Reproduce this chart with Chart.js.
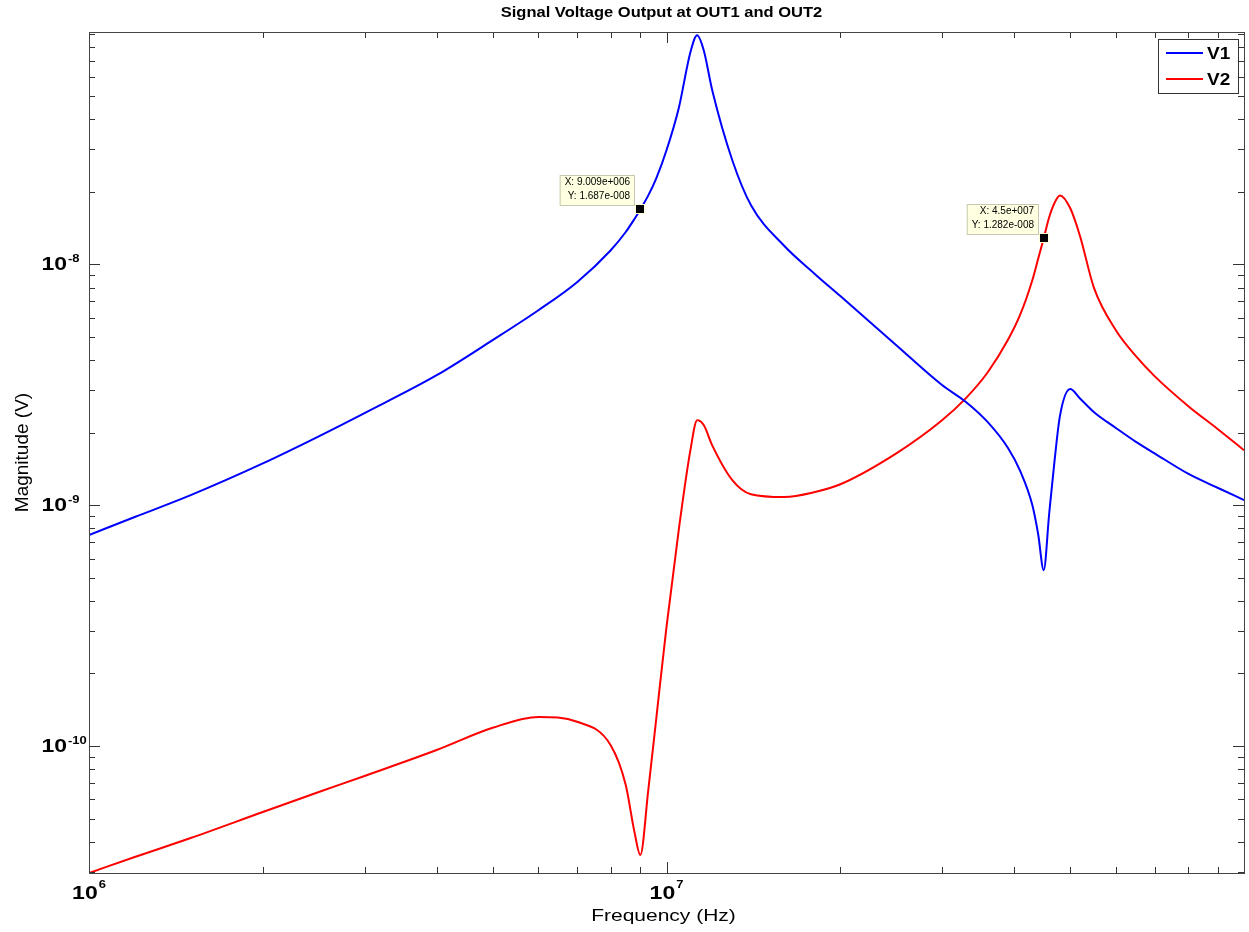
<!DOCTYPE html>
<html>
<head>
<meta charset="utf-8">
<title>Signal Voltage Output at OUT1 and OUT2</title>
<script src="https://cdn.jsdelivr.net/npm/chart.js@4.4.1/dist/chart.umd.min.js"></script>
<style>
  html, body { margin: 0; padding: 0; background: #fff; }
  #wrap { width: 1249px; height: 932px; }
</style>
</head>
<body>
<div id="wrap"><canvas id="chart" width="1249" height="932"></canvas></div>
<script>
// Labels
const chartTitle = 'Signal Voltage Output at OUT1 and OUT2';
const xLabel = 'Frequency (Hz)';
const yLabel = 'Magnitude (V)';
const seriesNames = ['V1', 'V2'];
const seriesColors = ['#0000ff', '#ff0000'];

// Frequency points (Hz)
const freq = [1e6, 1.2e6, 1.5e6, 2e6, 2.5e6, 3e6, 4e6, 5e6, 6e6, 7e6, 8e6, 8.5e6, 8.8e6, 9.009e6,
  9.3e6, 9.6e6, 1e7, 1.05e7, 1.1e7, 1.13e7, 1.16e7, 1.2e7, 1.3e7, 1.4e7, 1.6e7, 1.8e7, 2e7,
  2.5e7, 3e7, 3.3e7, 3.6e7, 3.9e7, 4.1e7, 4.3e7, 4.4e7, 4.5e7, 4.6e7, 4.7e7, 4.8e7, 5e7,
  5.2e7, 5.5e7, 6e7, 6.5e7, 7e7, 8e7, 9e7, 1e8];

// Magnitudes (V)
const v1 = [7.51e-10, 8.92e-10, 1.10e-9, 1.49e-9, 1.93e-9, 2.41e-9, 3.46e-9, 4.84e-9, 6.44e-9,
  8.42e-9, 1.14e-8, 1.36e-8, 1.54e-8, 1.687e-8, 1.93e-8, 2.27e-8, 2.97e-8, 4.44e-8, 7.58e-8,
  8.92e-8, 7.73e-8, 5.27e-8, 2.70e-8, 1.76e-8, 1.19e-8, 9.18e-9, 7.37e-9, 4.61e-9, 3.15e-9,
  2.68e-9, 2.21e-9, 1.73e-9, 1.38e-9, 1.00e-9, 7.6e-10, 5.37e-10, 9.27e-10, 1.54e-9, 2.34e-9,
  3.03e-9, 2.77e-9, 2.43e-9, 2.09e-9, 1.83e-9, 1.64e-9, 1.35e-9, 1.18e-9, 1.05e-9];

const v2 = [2.97e-11, 3.46e-11, 4.15e-11, 5.32e-11, 6.44e-11, 7.51e-11, 9.62e-11, 1.19e-10,
  1.32e-10, 1.26e-10, 1.01e-10, 6.89e-11, 4.40e-11, 3.53e-11, 6.57e-11, 1.30e-10, 3.12e-10,
  7.88e-10, 1.69e-9, 2.25e-9, 2.15e-9, 1.77e-9, 1.27e-9, 1.11e-9, 1.08e-9, 1.13e-9, 1.22e-9,
  1.64e-9, 2.25e-9, 2.78e-9, 3.56e-9, 4.84e-9, 6.20e-9, 8.58e-9, 1.05e-8, 1.282e-8, 1.57e-8,
  1.80e-8, 1.93e-8, 1.71e-8, 1.31e-8, 7.95e-9, 5.32e-9, 4.15e-9, 3.43e-9, 2.58e-9, 2.07e-9,
  1.69e-9];

// Axis limits and ticks
const xMin = 1e6, xMax = 1e8;
const yMin = 2.97e-11, yMax = 9.2e-8;
const xMajor = [1e6, 1e7, 1e8];
const xTickExp = ['6', '7', null];   // 10^8 label not shown
const yMajor = [1e-10, 1e-9, 1e-8];
const yTickExp = ['-10', '-9', '-8'];

// Data tips
const tipX = [9.009e6, 4.5e7];
const tipY = [1.687e-8, 1.282e-8];
const tipLines = [['X: 9.009e+006', 'Y: 1.687e-008'], ['X: 4.5e+007', 'Y: 1.282e-008']];

const FONT = "Arial, 'Liberation Sans', sans-serif";

function txt(ctx, s, x, y, font, align, sy) {
    ctx.save();
    ctx.translate(x, y);
    ctx.scale(1, sy);
    ctx.font = font;
    ctx.textAlign = align;
    ctx.textBaseline = 'middle';
    ctx.fillText(s, 0, 0);
    ctx.restore();
}

function minorTicks(min, max) {
    const out = [];
    for (let e = Math.floor(Math.log10(min)); e <= Math.ceil(Math.log10(max)); e++) {
        for (let k = 2; k <= 9; k++) {
            const v = k * Math.pow(10, e);
            if (v >= min && v <= max) out.push(v);
        }
    }
    return out;
}

const matlabFrame = {
    id: 'matlabFrame',
    afterDatasetsDraw(chart) {
        const { ctx, chartArea: a, scales: { x, y } } = chart;
        ctx.save();

        // ticks (inward, on all four sides)
        ctx.strokeStyle = '#333';
        ctx.lineWidth = 1;
        ctx.beginPath();
        const xt = (v, len) => {
            const px = Math.round(x.getPixelForValue(v)) + 0.5;
            ctx.moveTo(px, a.bottom); ctx.lineTo(px, a.bottom - len);
            ctx.moveTo(px, a.top); ctx.lineTo(px, a.top + len);
        };
        const yt = (v, len) => {
            const py = Math.round(y.getPixelForValue(v)) + 0.5;
            ctx.moveTo(a.left, py); ctx.lineTo(a.left + len, py);
            ctx.moveTo(a.right, py); ctx.lineTo(a.right - len, py);
        };
        xMajor.forEach(v => xt(v, 11));
        minorTicks(xMin, xMax).forEach(v => xt(v, 6));
        yMajor.forEach(v => yt(v, 11));
        minorTicks(yMin, yMax).forEach(v => yt(v, 6));
        ctx.stroke();

        // box
        ctx.strokeStyle = '#444';
        ctx.strokeRect(Math.round(a.left) + 0.5, Math.round(a.top) + 0.5,
            Math.round(a.right - a.left), Math.round(a.bottom - a.top));

        // tick labels
        ctx.fillStyle = '#000';
        const bigFont = 'bold 23px ' + FONT;
        const supFont = 'bold 13px ' + FONT;
        xMajor.forEach((v, i) => {
            if (!xTickExp[i]) return;
            const px = x.getPixelForValue(v);
            ctx.font = bigFont;
            const w10 = ctx.measureText('10').width;
            ctx.font = supFont;
            const ws = ctx.measureText(xTickExp[i]).width;
            const start = px - (w10 + ws + 1) / 2;
            txt(ctx, '10', start, a.bottom + 21, bigFont, 'left', 0.8);
            txt(ctx, xTickExp[i], start + w10 + 1, a.bottom + 12, supFont, 'left', 0.8);
        });
        yMajor.forEach((v, i) => {
            const py = y.getPixelForValue(v);
            txt(ctx, '10', a.left - 22, py + 1, bigFont, 'right', 0.8);
            txt(ctx, yTickExp[i], a.left - 21, py - 5, supFont, 'left', 0.8);
        });

        // axis labels and title
        txt(ctx, xLabel, (a.left + a.right) / 2 - 3, a.bottom + 43, '21px ' + FONT, 'center', 0.8);
        ctx.save();
        ctx.translate(23, (a.top + a.bottom) / 2);
        ctx.rotate(-Math.PI / 2);
        txt(ctx, yLabel, 0, 0, '19px ' + FONT, 'center', 1);
        ctx.restore();
        txt(ctx, chartTitle, (a.left + a.right) / 2 - 5, 13, 'bold 16.5px ' + FONT, 'center', 0.85);

        // data tips
        const tipFont = '10px ' + FONT;
        tipX.forEach((tx, i) => {
            const mx = Math.round(x.getPixelForValue(tx));
            const my = Math.round(y.getPixelForValue(tipY[i]));
            ctx.font = tipFont;
            const w = Math.max(...tipLines[i].map(s => ctx.measureText(s).width)) + 10;
            const right = mx - 5, bottom = my - 3, h = 31;
            ctx.fillStyle = '#ffffe1';
            ctx.fillRect(right - w, bottom - h, w, h);
            ctx.strokeStyle = '#c8c8b0';
            ctx.strokeRect(right - w + 0.5, bottom - h + 0.5, w - 1, h - 1);
            ctx.fillStyle = '#000';
            txt(ctx, tipLines[i][0], right - 5, bottom - 24, tipFont, 'right', 1);
            txt(ctx, tipLines[i][1], right - 5, bottom - 10, tipFont, 'right', 1);
            ctx.fillStyle = '#ffffd0';
            ctx.fillRect(mx - 5, my - 5, 10, 10);
            ctx.fillStyle = '#000';
            ctx.fillRect(mx - 4, my - 4, 8, 8);
        });

        // legend
        const lx = a.right - 86, ly = a.top + 7, lw = 80, lh = 54;
        ctx.fillStyle = '#fff';
        ctx.fillRect(lx, ly, lw, lh);
        ctx.strokeStyle = '#333';
        ctx.strokeRect(lx + 0.5, ly + 0.5, lw, lh);
        seriesNames.forEach((name, i) => {
            const yy = ly + 14 + i * 26;
            ctx.strokeStyle = seriesColors[i];
            ctx.lineWidth = 2;
            ctx.beginPath();
            ctx.moveTo(lx + 8, yy); ctx.lineTo(lx + 45, yy);
            ctx.stroke();
            ctx.fillStyle = '#000';
            txt(ctx, name, lx + 49, yy + 1, 'bold 19px ' + FONT, 'left', 0.9);
        });

        ctx.restore();
    }
};

const datasets = [v1, v2].map((vals, i) => ({
    label: seriesNames[i],
    data: freq.map((f, j) => ({ x: f, y: vals[j] })),
    borderColor: seriesColors[i],
    borderWidth: 2,
    pointRadius: 0,
    fill: false,
    cubicInterpolationMode: 'monotone'
}));

new Chart(document.getElementById('chart'), {
    type: 'line',
    data: { datasets },
    options: {
        responsive: false,
        animation: false,
        events: [],
        layout: { padding: { left: 89, top: 32, right: 5, bottom: 59 } },
        scales: {
            x: { type: 'logarithmic', min: xMin, max: xMax, display: false },
            y: { type: 'logarithmic', min: yMin, max: yMax, display: false }
        },
        plugins: {
            legend: { display: false },
            title: { display: false },
            tooltip: { enabled: false }
        }
    },
    plugins: [matlabFrame]
});
</script>
</body>
</html>
